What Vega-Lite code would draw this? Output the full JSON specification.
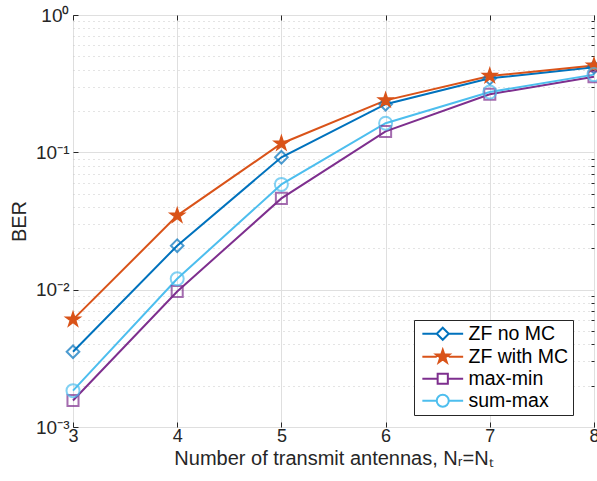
{
  "$schema": "https://vega.github.io/schema/vega-lite/v6.json",
  "width": 521,
  "height": 412,
  "autosize": {"type": "none"},
  "padding": {"left": 73, "top": 15, "right": 3, "bottom": 54},
  "background": "white",
  "config": {
    "font": "Liberation Sans",
    "view": {"stroke": "#262626", "strokeWidth": 1},
    "axis": {"domain": false, "labelColor": "#262626", "titleColor": "#262626", "tickColor": "#262626", "titleFontWeight": "normal"},
    "point": {"filled": false, "strokeWidth": 2, "size": 169, "clip": false}
  },
  "data": {
    "values": [
      {"n": 3, "series": "ZF no MC", "ber": 0.00353},
      {"n": 4, "series": "ZF no MC", "ber": 0.0209},
      {"n": 5, "series": "ZF no MC", "ber": 0.092},
      {"n": 6, "series": "ZF no MC", "ber": 0.224},
      {"n": 7, "series": "ZF no MC", "ber": 0.346},
      {"n": 8, "series": "ZF no MC", "ber": 0.416},
      {"n": 3, "series": "ZF with MC", "ber": 0.00605},
      {"n": 4, "series": "ZF with MC", "ber": 0.0346},
      {"n": 5, "series": "ZF with MC", "ber": 0.116},
      {"n": 6, "series": "ZF with MC", "ber": 0.239},
      {"n": 7, "series": "ZF with MC", "ber": 0.36},
      {"n": 8, "series": "ZF with MC", "ber": 0.428},
      {"n": 3, "series": "max-min", "ber": 0.00156},
      {"n": 4, "series": "max-min", "ber": 0.0097},
      {"n": 5, "series": "max-min", "ber": 0.0462},
      {"n": 6, "series": "max-min", "ber": 0.142},
      {"n": 7, "series": "max-min", "ber": 0.265},
      {"n": 8, "series": "max-min", "ber": 0.355},
      {"n": 3, "series": "sum-max", "ber": 0.00184},
      {"n": 4, "series": "sum-max", "ber": 0.012},
      {"n": 5, "series": "sum-max", "ber": 0.0584},
      {"n": 6, "series": "sum-max", "ber": 0.163},
      {"n": 7, "series": "sum-max", "ber": 0.275},
      {"n": 8, "series": "sum-max", "ber": 0.368}
    ]
  },
  "layer": [
    {
      "mark": {"type": "line", "strokeWidth": 2, "clip": false},
      "encoding": {
        "x": {
          "field": "n", "type": "quantitative",
          "scale": {"domain": [3, 8], "nice": false, "zero": false},
          "axis": {
            "values": [3, 4, 5, 6, 7, 8], "orient": "bottom",
            "title": "Number of transmit antennas, Nᵣ=Nₜ",
            "titleFontSize": 20, "titlePadding": 3,
            "labelFontSize": 18, "labelPadding": 5, "labelFlush": false,
            "tickSize": -5, "grid": true, "gridColor": "#dfdfdf", "gridWidth": 1
          }
        },
        "y": {
          "field": "ber", "type": "quantitative",
          "scale": {"type": "log", "domain": [0.001, 1], "nice": false},
          "axis": {
            "values": [0.001, 0.01, 0.1, 1], "orient": "left",
            "title": "BER", "titleFontSize": 20, "titlePadding": 6,
            "labelFontSize": 19, "labelPadding": 9,
            "labelExpr": "datum.value >= 1 ? '10⁰' : datum.value >= 0.1 ? '10⁻¹' : datum.value >= 0.01 ? '10⁻²' : '10⁻³'",
            "tickSize": -5, "grid": true, "gridColor": "#dfdfdf", "gridWidth": 1
          }
        },
        "color": {
          "field": "series", "type": "nominal",
          "scale": {
            "domain": ["ZF no MC", "ZF with MC", "max-min", "sum-max"],
            "range": ["#0072BD", "#D95319", "#7E2F8E", "#4DBEEE"]
          },
          "legend": {
            "title": null,
            "orient": "none", "legendX": 341, "legendY": 305,
            "fillColor": "white", "strokeColor": "#262626", "padding": 4,
            "labelFontSize": 19.5, "labelColor": "#000000", "labelOffset": 16,
            "symbolSize": 144, "symbolOffset": 15, "symbolStrokeWidth": 2,
            "rowPadding": 1,
            "encode": {
              "symbols": {
                "update": {
                  "shape": {"signal": "datum.value === 'ZF no MC' ? 'M-3.4,0H-1M1,0H3.4M0,-1L1,0L0,1L-1,0Z' : datum.value === 'ZF with MC' ? 'M-3.4,0H-1M1,0H3.4M0,-1.15L0.26,-0.36L1.09,-0.36L0.42,0.13L0.68,0.93L0,0.44L-0.68,0.93L-0.42,0.13L-1.09,-0.36L-0.26,-0.36Z' : datum.value === 'max-min' ? 'M-3.4,0H-0.85M0.85,0H3.4M-0.85,-0.85H0.85V0.85H-0.85Z' : 'M-3.4,0H-1M1,0H3.4M1,0A1,1,0,1,1,-1,0A1,1,0,1,1,1,0Z'"},
                  "fill": {"signal": "datum.value === 'ZF with MC' ? '#D95319' : 'white'"},
                  "strokeWidth": {"value": 2}
                }
              }
            }
          }
        }
      }
    },
    {
      "transform": [{"filter": "datum.series === 'ZF no MC'"}],
      "mark": {"type": "point", "shape": "M0,-0.97L0.97,0L0,0.97L-0.97,0Z", "color": "#0072BD"},
      "encoding": {
        "x": {
          "field": "n", "type": "quantitative",
          "axis": {"orient": "top", "values": [3, 4, 5, 6, 7, 8], "labels": false, "title": null, "tickSize": -5, "grid": false}
        },
        "y": {
          "field": "ber", "type": "quantitative",
          "axis": {
            "orient": "right", "labels": false, "title": null,
            "values": [0.002, 0.003, 0.004, 0.005, 0.006, 0.007, 0.008, 0.009, 0.02, 0.03, 0.04, 0.05, 0.06, 0.07, 0.08, 0.09, 0.2, 0.3, 0.4, 0.5, 0.6, 0.7, 0.8, 0.9],
            "tickSize": -3, "grid": true, "gridColor": "#c8c8c8", "gridDash": [1, 4], "gridWidth": 1
          }
        }
      }
    },
    {
      "transform": [{"filter": "datum.series === 'ZF with MC'"}],
      "mark": {"type": "point", "filled": true, "strokeWidth": 1.5, "shape": "M0,-1.15L0.26,-0.36L1.09,-0.36L0.42,0.13L0.68,0.93L0,0.44L-0.68,0.93L-0.42,0.13L-1.09,-0.36L-0.26,-0.36Z", "fill": "#D95319", "stroke": "#D95319", "fillOpacity": 1},
      "encoding": {
        "x": {"field": "n", "type": "quantitative", "axis": null},
        "y": {"field": "ber", "type": "quantitative", "axis": null}
      }
    },
    {
      "transform": [{"filter": "datum.series === 'max-min'"}],
      "mark": {"type": "point", "shape": "M-0.85,-0.85H0.85V0.85H-0.85Z", "color": "#7E2F8E"},
      "encoding": {
        "x": {"field": "n", "type": "quantitative", "axis": null},
        "y": {"field": "ber", "type": "quantitative", "axis": null}
      }
    },
    {
      "transform": [{"filter": "datum.series === 'sum-max'"}],
      "mark": {"type": "point", "shape": "M1,0A1,1,0,1,1,-1,0A1,1,0,1,1,1,0Z", "color": "#4DBEEE"},
      "encoding": {
        "x": {"field": "n", "type": "quantitative", "axis": null},
        "y": {"field": "ber", "type": "quantitative", "axis": null}
      }
    }
  ],
  "resolve": {"axis": {"x": "independent", "y": "independent"}}
}
